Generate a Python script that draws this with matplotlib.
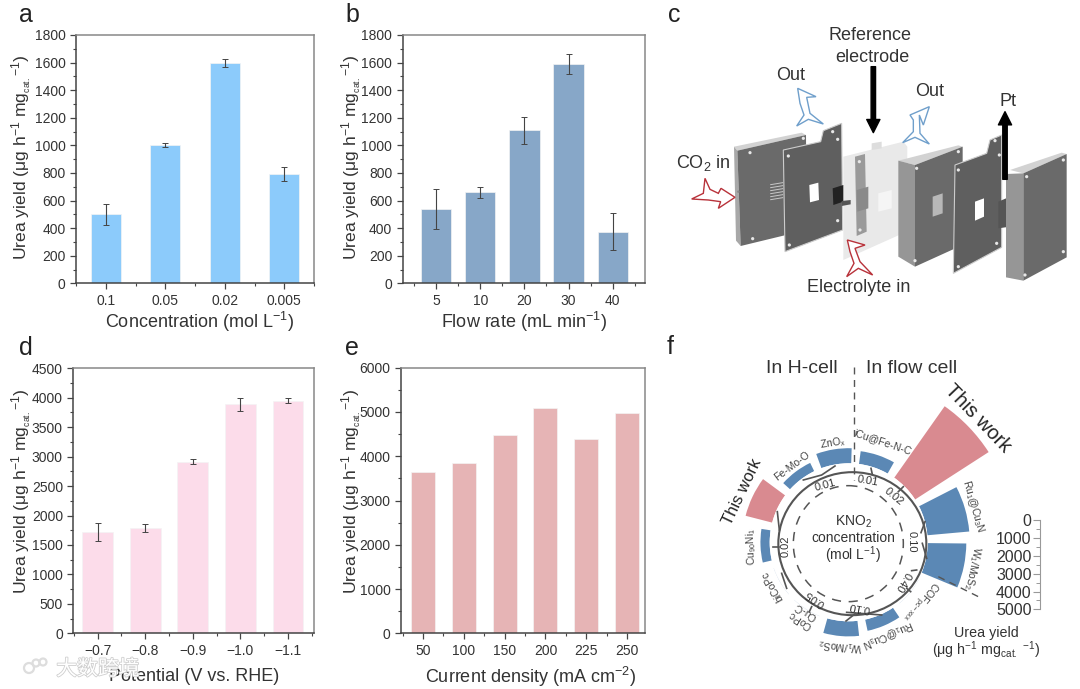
import numpy as np
import matplotlib
matplotlib.use("Agg")
import matplotlib.pyplot as plt
from matplotlib.patches import Polygon, Ellipse, Circle
from matplotlib.ticker import MultipleLocator, FixedLocator
import matplotlib.patheffects as pe

plt.rcParams['font.family'] = ['Liberation Sans', 'DejaVu Sans']
plt.rcParams['mathtext.fontset'] = 'custom'
plt.rcParams['mathtext.rm'] = 'Liberation Sans'
plt.rcParams['mathtext.it'] = 'Liberation Sans:italic'
plt.rcParams['mathtext.bf'] = 'Liberation Sans:bold'
plt.rcParams['mathtext.default'] = 'regular'

W, H = 1080, 689
TEXT = '#333333'

# panel a
conc_labels = ['0.1', '0.05', '0.02', '0.005']
conc_yield = [500, 1005, 1595, 790]
conc_err = [75, 15, 30, 50]
# panel b
flow_labels = ['5', '10', '20', '30', '40']
flow_yield = [540, 660, 1110, 1590, 375]
flow_err = [145, 40, 97, 72, 135]
# panel d
pot_labels = ['\u22120.7', '\u22120.8', '\u22120.9', '\u22121.0', '\u22121.1']
pot_yield = [1725, 1790, 2915, 3890, 3950]
pot_err = [150, 65, 45, 110, 40]
# panel e
cur_labels = ['50', '100', '150', '200', '225', '250']
cur_yield = [3650, 3840, 4490, 5100, 4380, 4980]
# panel f, clockwise from the top
f_names = ['iCu@Fe-N-C', 'This work', 'Ru$_1$@Cu$_3$N', 'W$_1$/MoS$_2$', 'COF$_{pc-xxx}$',
           'Ru$_1$@Cu$_3$N', 'W$_1$/MoS$_2$', 'CoPc\nCu-C', 'biCoPc', 'Cu$_{90}$Ni$_1$',
           'This work', 'Fe-Mo-O', 'ZnO$_x$']
f_yield = [750, 5100, 2450, 2250, 20, 670, 880, 20, 20, 540, 1600, 540, 880]
f_conc = ['0.01', '0.02', '0.10', '0.40', '0.10', '0.05', '0.02', '0.01']
ruler_ticks = [0, 1000, 2000, 3000, 4000, 5000]

YLAB = 'Urea yield (\u03bcg h$^{-1}$ mg$_{_{cat.}}$$^{-1}$)'

fig = plt.figure(figsize=(W / 100, H / 100), dpi=100)


def px_axes(l, t, r, b, **kw):
    return fig.add_axes([l / W, 1 - b / H, (r - l) / W, (b - t) / H], **kw)


def bar_panel(box, labels, vals, errs, color, ymax, major, xlim, width, xlab, xlab_pos, ylab_pos):
    l, t, r, b = box
    ax = px_axes(l, t, r, b)
    x = np.arange(len(vals))
    ax.bar(x, vals, width=width, color=color, edgecolor='#f4f4f4', linewidth=0.5)
    if errs is not None:
        ax.errorbar(x, vals, yerr=errs, fmt='none', ecolor='#444444', elinewidth=0.8, capsize=2, capthick=0.7)
    ax.set_xlim(*xlim)
    ax.set_ylim(0, ymax)
    ax.set_xticks(x)
    ax.set_xticklabels(labels)
    ax.xaxis.set_minor_locator(FixedLocator(np.arange(len(vals) + 1) - 0.5))
    ax.yaxis.set_major_locator(MultipleLocator(major))
    ax.yaxis.set_minor_locator(MultipleLocator(major / 2))
    ax.tick_params(axis='both', which='major', length=4.5, width=0.9, labelsize=10, colors='#444444',
                   labelcolor=TEXT, pad=3)
    ax.tick_params(axis='both', which='minor', length=2.5, width=0.8, colors='#444444')
    for s in ['left', 'bottom']:
        ax.spines[s].set_color('#444444')
        ax.spines[s].set_linewidth(1.1)
    for s in ['top', 'right']:
        ax.spines[s].set_color('#888888')
        ax.spines[s].set_linewidth(1.1)
    ax.set_xlabel(xlab, fontsize=13, color=TEXT, va='center')
    ax.xaxis.set_label_coords((xlab_pos[0] - l) / (r - l), -(xlab_pos[1] - b) / (b - t))
    ax.set_ylabel(YLAB, fontsize=12.6, color=TEXT, va='center')
    ax.yaxis.set_label_coords((ylab_pos[0] - l) / (r - l), (b - ylab_pos[1]) / (b - t))
    return ax


bar_panel((76, 35, 314, 283.3), conc_labels, conc_yield, conc_err, '#8ccbfb', 1800, 200, (-0.5, 3.5), 0.5,
          'Concentration (mol L$^{-1}$)', (200, 321.7), (22, 157))
bar_panel((402.7, 35, 645, 283.3), flow_labels, flow_yield, flow_err, '#87a7c8', 1800, 200, (-0.755, 4.73), 0.69,
          'Flow rate (mL min$^{-1}$)', (524, 321.7), (352, 157))
bar_panel((73.3, 368.3, 314, 633.3), pot_labels, pot_yield, pot_err, '#fcdcea', 4500, 500, (-0.51, 4.545), 0.645,
          'Potential (V vs. RHE)', (194, 676.7), (22, 491.5))
bar_panel((401, 367.7, 645, 633.3), cur_labels, cur_yield, None, '#e6b4b5', 6000, 1000, (-0.54, 5.44), 0.59,
          'Current density (mA cm$^{-2}$)', (530, 676.7), (352, 491.5))

# overlay in pixel coordinates for the schematic and the notes
ov = fig.add_axes([0, 0, 1, 1], zorder=5)
ov.set_xlim(0, W)
ov.set_ylim(H, 0)
ov.axis('off')


def zc(x, y):
    return (650 + x / 3, y / 3)


def zf(x, y):
    return (690 + x / 3, 340 + y / 3)


def poly(pts, fc, ec='none', lw=0.8, z=2, alpha=None):
    ov.add_patch(Polygon([zc(*p) for p in pts], closed=True, fc=fc, ec=ec, lw=lw, zorder=z, alpha=alpha))


def note(x, y, s, size=13, rot=0, color=TEXT):
    ov.text(x, y, s, fontsize=size, rotation=rot, ha='center', va='center', color=color, zorder=9,
            rotation_mode='anchor')


for lab, x, y in [('a', 26, 15), ('b', 352, 15), ('c', 674, 15), ('d', 26, 348), ('e', 352, 348), ('f', 670, 347)]:
    note(x, y, lab, size=18, color='#222222')


def holes(pts):
    for p in pts:
        ov.add_patch(Circle(zc(*p), 1.6, fc='#e8e8e8', ec='none', zorder=4))


# panel c, thick plate A
poly([(252, 440), (455, 398), (468, 405), (262, 452)], '#d2d2d2')
poly([(252, 440), (262, 452), (272, 738), (258, 722)], '#a8a8a8')
poly([(262, 452), (468, 405), (470, 690), (272, 738)], '#6a6a6a')
holes([(300, 458), (308, 716), (460, 415)])
for k in range(6):
    yy = 548 + k * 9
    ov.plot(*zip(zc(362, yy + 6), zc(398, yy)), color='#c8c8c8', lw=0.7, zorder=3)
ov.add_patch(Circle(zc(265, 575), 1.2, fc='#888888', zorder=4))
# plate B
poly([(400, 450), (512, 425), (520, 392), (575, 370), (578, 690), (405, 755)], '#5f5f5f', ec='#cccccc', z=3)
poly([(478, 555), (505, 548), (507, 600), (480, 607)], '#ffffff', z=4)
holes([(415, 468), (548, 395), (563, 418), (418, 735), (563, 662)])
# middle translucent plate
poly([(580, 470), (760, 425), (772, 440), (770, 695), (580, 780)], '#e9e9e9', z=3)
poly([(665, 430), (695, 425), (695, 445), (665, 450)], '#dddddd', z=3)
poly([(615, 470), (645, 462), (650, 695), (620, 708)], '#9a9a9a', z=4)
poly([(620, 570), (655, 560), (655, 625), (622, 635)], '#8a8a8a', z=4)
poly([(685, 580), (725, 570), (725, 625), (685, 635)], '#f5f5f5', z=4)
poly([(548, 565), (580, 555), (580, 605), (550, 615)], '#222222', z=5)
poly([(575, 603), (602, 600), (602, 613), (575, 618)], '#555555', z=5)
holes([(628, 485), (630, 690)])
# thick plate D
poly([(745, 482), (925, 436), (938, 440), (795, 495)], '#d2d2d2', z=3)
poly([(745, 482), (795, 495), (795, 800), (745, 770)], '#969696', z=3)
poly([(795, 495), (938, 440), (938, 735), (795, 800)], '#6a6a6a', z=3)
poly([(848, 590), (878, 580), (878, 640), (848, 650)], '#b8b8b8', z=4)
holes([(800, 505), (925, 455), (795, 782), (925, 722)])
# plate E
poly([(915, 495), (1010, 460), (1020, 420), (1055, 405), (1055, 742), (910, 820)], '#5f5f5f', ec='#cccccc', z=4)
poly([(975, 605), (1002, 595), (1002, 650), (975, 662)], '#ffffff', z=5)
holes([(1035, 422), (1048, 465), (925, 510), (925, 800), (1040, 730)])
# plate F and its tab
poly([(1045, 605), (1080, 590), (1080, 680), (1045, 685)], '#555555', z=4)
poly([(1080, 510), (1235, 458), (1250, 462), (1120, 520)], '#d2d2d2', z=4)
poly([(1068, 522), (1120, 520), (1120, 842), (1068, 832)], '#969696', z=4)
poly([(1120, 520), (1250, 462), (1250, 772), (1120, 842)], '#6a6a6a', z=4)
holes([(1130, 530), (1240, 480), (1125, 825), (1240, 755)])
# black arrows
ov.annotate('', xy=zc(670, 398), xytext=zc(670, 200), zorder=8,
            arrowprops=dict(width=3.2, headwidth=9.5, headlength=9.5, color='black', shrink=0))
ov.annotate('', xy=zc(1065, 335), xytext=zc(1065, 538), zorder=8,
            arrowprops=dict(width=3.2, headwidth=9.5, headlength=9.5, color='black', shrink=0))
# outline arrows
RED, BLUE = '#b8323a', '#6f9fcb'
poly([(125, 597), (160, 580), (165, 535), (180, 568), (205, 580), (213, 565), (255, 592), (205, 625), (212, 605),
      (175, 600)], '#ffffff', ec=RED, lw=1, z=8)
poly([(443, 265), (498, 290), (470, 292), (480, 340), (520, 372), (475, 358), (440, 378), (462, 345), (450, 310)],
     '#ffffff', ec=BLUE, lw=1, z=8)
poly([(838, 320), (820, 375), (808, 345), (810, 400), (838, 432), (795, 412), (758, 428), (790, 395), (790, 360),
      (780, 345)], '#ffffff', ec=BLUE, lw=1, z=8)
poly([(592, 720), (645, 735), (615, 745), (630, 785), (668, 825), (625, 805), (590, 830), (612, 790), (600, 755)],
     '#ffffff', ec=RED, lw=1, z=8)
note(870, 36, 'Reference')
note(872, 57, 'electrode')
note(791, 76, 'Out')
note(930, 92, 'Out')
note(1008, 102, 'Pt')
note(703, 163, 'CO$_2$ in')
note(859, 288, 'Electrolyte in')

# panel f, bars on a polar axes with its own radial origin
cx, cy = 848.7, 542.3
half = 170.0
r0 = 79.0
k = 87.5 / 5100
pol = fig.add_axes([(cx - half) / W, 1 - (cy + half) / H, 2 * half / W, 2 * half / H], projection='polar', zorder=4)
pol.set_theta_zero_location('N')
pol.set_theta_direction(-1)
pol.set_rorigin(-r0 / k)
pol.set_rlim(0, (half - r0) / k)
pol.axis('off')
pol.patch.set_alpha(0)

step = 360 / len(f_yield)
theta = 18.5 + step * np.arange(len(f_yield))
colors = []
for name, v in zip(f_names, f_yield):
    if name == 'This work':
        colors.append('#d98a90')
    elif v < 100:
        colors.append('#c8d6e6')
    else:
        colors.append('#5b88b5')
pol.bar(np.radians(theta), f_yield, width=np.radians(22), bottom=0, color=colors, linewidth=0)

# label gap above each bar, in yield units
label_gap = [800, 700, 520, 520, 700, 550, 520, 400, 500, 540, 640, 400, 350]
label_size = [7.5, 14.5, 7.5, 7.5, 7.5, 7.5, 7.5, 7.5, 7.5, 7.5, 12, 7.5, 7.5]
for th, name, v, gap, size in zip(theta, f_names, f_yield, label_gap, label_size):
    rot = -th
    pol.text(np.radians(th), v + gap, name, fontsize=size, rotation=rot, rotation_mode='anchor', ha='center',
             va='center', color='#222222' if size > 8 else '#444444', linespacing=1.0)

# concentration ring and its connecting lines
ov.add_patch(Ellipse(zf(487, 611), 148, 143, fc='none', ec='#555555', lw=1.5, zorder=6))
ov.add_patch(Ellipse(zf(475, 611), 110, 116, fc='none', ec='#555555', lw=1.1, ls=(0, (6, 5)), zorder=6))
links = [[(543, 385), (547, 403)], [(640, 440), (625, 455)], [(705, 545), (693, 578)], [(697, 610), (710, 655)],
         [(680, 690), (665, 692)], [(650, 745), (662, 755)], [(575, 825), (470, 817)], [(468, 843), (497, 820)],
         [(365, 800), (358, 815)], [(275, 700), (290, 745)], [(250, 620), (268, 620)], [(262, 515), (268, 570)],
         [(340, 420), (395, 405), (435, 378)]]
for seg in links:
    ov.plot(*zip(*[zf(*p) for p in seg]), color='#555555', lw=1.2, zorder=6)
ring_pos = [(533, 423, -10), (610, 470, -40), (665, 605, -90), (640, 725, -120), (510, 800, 170), (375, 775, 145),
            (287, 620, 90), (405, 435, 15)]
for s, (x, y, rot) in zip(f_conc, ring_pos):
    note(*zf(x, y), s, size=8, rot=rot)

ov.plot(*zip(zf(492, 80), zf(492, 420)), color='#555555', lw=1, ls=(0, (5, 4)), zorder=6)
ov.plot(*zip(zf(745, 710), zf(875, 775)), color='#555555', lw=1, ls=(0, (5, 4)), zorder=6)
note(*zf(335, 85), 'In H-cell', size=14)
note(*zf(665, 85), 'In flow cell', size=14)
note(*zf(490, 545), 'KNO$_2$', size=10)
note(*zf(490, 595), 'concentration', size=10)
note(*zf(490, 645), '(mol L$^{-1}$)', size=10)
note(*zf(890, 878), 'Urea yield', size=10.3)
note(*zf(890, 930), '(\u03bcg h$^{-1}$ mg$_{cat.}$ $^{-1}$)', size=10.3)

# yield ruler of panel f
ruler = px_axes(1040, 520.3, 1046, 609.3)
ruler.set_ylim(5000, 0)
ruler.set_xticks([])
ruler.set_yticks(ruler_ticks)
ruler.yaxis.set_minor_locator(MultipleLocator(500))
ruler.tick_params(axis='y', which='major', length=5, width=0.8, color='#999999', labelsize=11.5, labelcolor=TEXT, pad=1)
ruler.tick_params(axis='y', which='minor', length=3, width=0.7, color='#999999')
for s in ['top', 'right', 'bottom']:
    ruler.spines[s].set_visible(False)
ruler.spines['left'].set_color('#999999')
ruler.patch.set_alpha(0)

# watermark over panel d
for xy, rad in [((29, 668), 5), ((36, 663), 3.5), ((43, 662), 3.5)]:
    ov.add_patch(Circle(xy, rad, fc='none', ec='#dddddd', lw=1.6, zorder=10))
ov.text(98, 669, '\u5927\u6570\u8de8\u5883', fontsize=15, family=['Noto Sans CJK SC', 'DejaVu Sans'], ha='center',
        va='center', color='#ffffff', zorder=10,
        path_effects=[pe.withStroke(linewidth=1.2, foreground='#cfcfcf')])

fig.savefig('out.png', dpi=100)
